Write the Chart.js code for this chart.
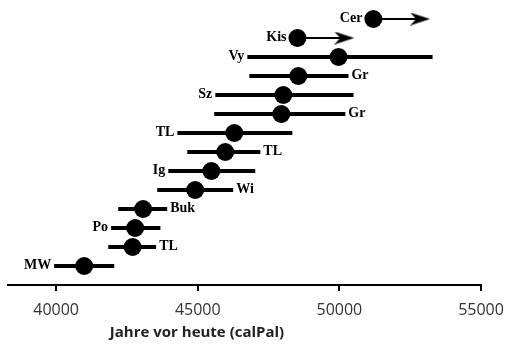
<!DOCTYPE html>
<html>
<head>
<meta charset="utf-8">
<script src="https://cdn.jsdelivr.net/npm/chart.js@4.4.0/dist/chart.umd.min.js"></script>
<style>
  html, body { margin: 0; padding: 0; background: #fff; }
  #wrap { width: 505px; height: 345px; }
</style>
</head>
<body>
<div id="wrap"><canvas id="myChart"></canvas></div>
<script>
// sites, top to bottom
var sites = ['Cer', 'Kis', 'Vy', 'Gr', 'Sz', 'Gr', 'TL', 'TL', 'Ig', 'Wi', 'Buk', 'Po', 'TL', 'MW'];
var rows = [14, 13, 12, 11, 10, 9, 8, 7, 6, 5, 4, 3, 2, 1];
var ages = [51200, 48520, 49970, 48550, 48020, 47950, 46290, 45970, 45480, 44910, 43070, 42790, 42700, 40990];
var lows = [null, null, 46750, 46820, 45620, 45580, 44280, 44630, 43960, 43570, 42190, 41940, 41840, 39930];
var highs = [null, null, 53290, 50320, 50500, 50210, 48340, 47210, 47030, 46250, 43920, 43680, 43530, 42050];
// minimum ages only (arrow to older)
var arrowEnds = [52850, 50170, null, null, null, null, null, null, null, null, null, null, null, null];
var labelSide = ['L', 'L', 'L', 'R', 'L', 'R', 'L', 'R', 'L', 'R', 'R', 'L', 'R', 'L'];
var xTicks = [40000, 45000, 50000, 55000];

// arrow head used as point style
var head = document.createElement('canvas');
head.width = 20; head.height = 13;
var hc = head.getContext('2d');
hc.fillStyle = '#000';
hc.beginPath();
hc.moveTo(20, 6.5);
hc.lineTo(0, 0);
hc.lineTo(6, 6.5);
hc.lineTo(0, 13);
hc.closePath();
hc.fill();

var datasets = [];

// error bars
for (var i = 0; i < sites.length; i++) {
  if (lows[i] == null) continue;
  datasets.push({
    type: 'line',
    data: [{x: lows[i], y: rows[i]}, {x: highs[i], y: rows[i]}],
    borderColor: '#000',
    borderWidth: 4,
    borderCapStyle: 'butt',
    pointRadius: 0
  });
}

// arrows
for (var i = 0; i < sites.length; i++) {
  if (arrowEnds[i] == null) continue;
  datasets.push({
    type: 'line',
    data: [{x: ages[i], y: rows[i]}, {x: arrowEnds[i], y: rows[i]}],
    borderColor: '#000',
    borderWidth: 2,
    pointRadius: [0, 10],
    pointStyle: [false, head]
  });
}

// dates
datasets.push({
  type: 'scatter',
  data: ages.map(function(a, i) { return {x: a, y: rows[i]}; }),
  pointRadius: 9,
  pointBackgroundColor: '#000',
  pointBorderColor: '#000',
  pointBorderWidth: 0
});

var siteLabels = {
  id: 'siteLabels',
  afterDatasetsDraw: function(chart) {
    var ctx = chart.ctx;
    var xs = chart.scales.x, ys = chart.scales.y;
    ctx.save();
    ctx.font = 'bold 14px "Liberation Serif", "Times New Roman", serif';
    ctx.fillStyle = '#000';
    ctx.textBaseline = 'middle';
    for (var i = 0; i < sites.length; i++) {
      var y = ys.getPixelForValue(rows[i]) - 1;
      if (labelSide[i] == 'L') {
        var x = lows[i] == null ? xs.getPixelForValue(ages[i]) - 11 : xs.getPixelForValue(lows[i]) - 3;
        ctx.textAlign = 'right';
        ctx.fillText(sites[i], x, y);
      } else {
        ctx.textAlign = 'left';
        ctx.fillText(sites[i], xs.getPixelForValue(highs[i]) + 3, y);
      }
    }
    // axis title
    ctx.font = 'bold 15px "Open Sans", sans-serif';
    ctx.fillStyle = '#222';
    ctx.textAlign = 'center';
    ctx.fillText('Jahre vor heute (calPal)', 197, 333);
    ctx.restore();
  }
};

var ctx = document.getElementById('myChart').getContext('2d');
var chart = new Chart(ctx, {
  type: 'scatter',
  data: { datasets: datasets },
  plugins: [siteLabels],
  options: {
    responsive: true,
    maintainAspectRatio: false,
    animation: false,
    layout: { autoPadding: false, padding: { left: 8, right: 24, top: 0, bottom: 0 } },
    plugins: {
      legend: { display: false },
      tooltip: { enabled: false }
    },
    scales: {
      x: {
        type: 'linear',
        min: 38300,
        max: 55000,
        afterBuildTicks: function(scale) {
          scale.ticks = xTicks.map(function(v) { return {value: v}; });
        },
        afterFit: function(scale) {
          scale.height = 60;
          scale.paddingLeft = 0;
          scale.paddingRight = 0;
        },
        border: { display: true, color: '#000', width: 2 },
        grid: { drawOnChartArea: false, drawTicks: true, tickLength: 6, color: '#000', lineWidth: 2 },
        ticks: {
          padding: 10,
          color: '#333',
          font: { family: '"Open Sans", sans-serif', size: 16 },
          callback: function(v) { return String(v); }
        }
      },
      y: {
        type: 'linear',
        display: false,
        min: 0,
        max: 15
      }
    }
  }
});
</script>
</body>
</html>
